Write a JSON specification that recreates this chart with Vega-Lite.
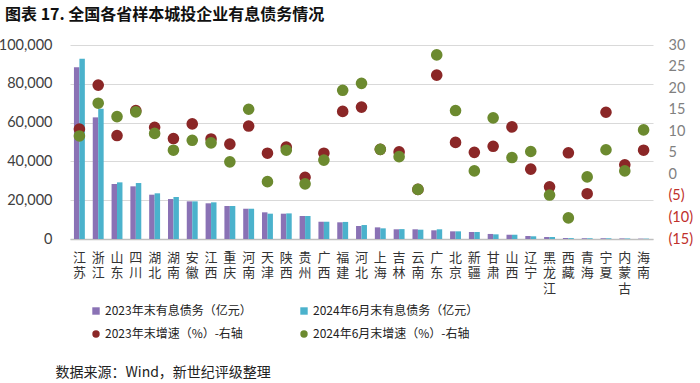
{
  "$schema": "https://vega.github.io/schema/vega-lite/v6.json",
  "width": 583,
  "height": 194,
  "autosize": "none",
  "padding": {"left": 70, "top": 45, "right": 47, "bottom": 144},
  "background": "#ffffff",
  "title": {
    "text": "图表 17. 全国各省样本城投企业有息债务情况",
    "anchor": "start",
    "frame": "group",
    "dx": -65,
    "offset": 14,
    "font": "Noto Sans CJK SC",
    "fontSize": 16,
    "fontWeight": "bold",
    "color": "#111111"
  },
  "config": {
    "view": {"stroke": null},
    "axis": {"labelFont": "Lato", "titleFont": "Noto Sans CJK SC"},
    "legend": {"labelFont": "Noto Sans CJK SC"}
  },
  "datasets": {
    "debt": [
      {"province": "江苏", "series": "2023年末有息债务（亿元）", "value": 88500},
      {"province": "江苏", "series": "2024年6月末有息债务（亿元）", "value": 92900},
      {"province": "浙江", "series": "2023年末有息债务（亿元）", "value": 62700},
      {"province": "浙江", "series": "2024年6月末有息债务（亿元）", "value": 67200},
      {"province": "山东", "series": "2023年末有息债务（亿元）", "value": 28350},
      {"province": "山东", "series": "2024年6月末有息债务（亿元）", "value": 29200},
      {"province": "四川", "series": "2023年末有息债务（亿元）", "value": 27150},
      {"province": "四川", "series": "2024年6月末有息债务（亿元）", "value": 28850},
      {"province": "湖北", "series": "2023年末有息债务（亿元）", "value": 22840},
      {"province": "湖北", "series": "2024年6月末有息债务（亿元）", "value": 23550},
      {"province": "湖南", "series": "2023年末有息债务（亿元）", "value": 20600},
      {"province": "湖南", "series": "2024年6月末有息债务（亿元）", "value": 21650},
      {"province": "安徽", "series": "2023年末有息债务（亿元）", "value": 19400},
      {"province": "安徽", "series": "2024年6月末有息债务（亿元）", "value": 19400},
      {"province": "江西", "series": "2023年末有息债务（亿元）", "value": 18400},
      {"province": "江西", "series": "2024年6月末有息债务（亿元）", "value": 18900},
      {"province": "重庆", "series": "2023年末有息债务（亿元）", "value": 17000},
      {"province": "重庆", "series": "2024年6月末有息债务（亿元）", "value": 17000},
      {"province": "河南", "series": "2023年末有息债务（亿元）", "value": 15600},
      {"province": "河南", "series": "2024年6月末有息债务（亿元）", "value": 15600},
      {"province": "天津", "series": "2023年末有息债务（亿元）", "value": 13750},
      {"province": "天津", "series": "2024年6月末有息债务（亿元）", "value": 13050},
      {"province": "陕西", "series": "2023年末有息债务（亿元）", "value": 13050},
      {"province": "陕西", "series": "2024年6月末有息债务（亿元）", "value": 13200},
      {"province": "贵州", "series": "2023年末有息债务（亿元）", "value": 11850},
      {"province": "贵州", "series": "2024年6月末有息债务（亿元）", "value": 11850},
      {"province": "广西", "series": "2023年末有息债务（亿元）", "value": 8900},
      {"province": "广西", "series": "2024年6月末有息债务（亿元）", "value": 8900},
      {"province": "福建", "series": "2023年末有息债务（亿元）", "value": 8600},
      {"province": "福建", "series": "2024年6月末有息债务（亿元）", "value": 8800},
      {"province": "河北", "series": "2023年末有息债务（亿元）", "value": 6700},
      {"province": "河北", "series": "2024年6月末有息债务（亿元）", "value": 7200},
      {"province": "上海", "series": "2023年末有息债务（亿元）", "value": 6000},
      {"province": "上海", "series": "2024年6月末有息债务（亿元）", "value": 5500},
      {"province": "吉林", "series": "2023年末有息债务（亿元）", "value": 5000},
      {"province": "吉林", "series": "2024年6月末有息债务（亿元）", "value": 5100},
      {"province": "云南", "series": "2023年末有息债务（亿元）", "value": 5000},
      {"province": "云南", "series": "2024年6月末有息债务（亿元）", "value": 4800},
      {"province": "广东", "series": "2023年末有息债务（亿元）", "value": 4480},
      {"province": "广东", "series": "2024年6月末有息债务（亿元）", "value": 5000},
      {"province": "北京", "series": "2023年末有息债务（亿元）", "value": 3950},
      {"province": "北京", "series": "2024年6月末有息债务（亿元）", "value": 3950},
      {"province": "新疆", "series": "2023年末有息债务（亿元）", "value": 3600},
      {"province": "新疆", "series": "2024年6月末有息债务（亿元）", "value": 3600},
      {"province": "甘肃", "series": "2023年末有息债务（亿元）", "value": 2600},
      {"province": "甘肃", "series": "2024年6月末有息债务（亿元）", "value": 2400},
      {"province": "山西", "series": "2023年末有息债务（亿元）", "value": 2200},
      {"province": "山西", "series": "2024年6月末有息债务（亿元）", "value": 2200},
      {"province": "辽宁", "series": "2023年末有息债务（亿元）", "value": 1550},
      {"province": "辽宁", "series": "2024年6月末有息债务（亿元）", "value": 1400},
      {"province": "黑龙江", "series": "2023年末有息债务（亿元）", "value": 1030},
      {"province": "黑龙江", "series": "2024年6月末有息债务（亿元）", "value": 1030},
      {"province": "西藏", "series": "2023年末有息债务（亿元）", "value": 500},
      {"province": "西藏", "series": "2024年6月末有息债务（亿元）", "value": 450},
      {"province": "青海", "series": "2023年末有息债务（亿元）", "value": 400},
      {"province": "青海", "series": "2024年6月末有息债务（亿元）", "value": 380},
      {"province": "宁夏", "series": "2023年末有息债务（亿元）", "value": 380},
      {"province": "宁夏", "series": "2024年6月末有息债务（亿元）", "value": 360},
      {"province": "内蒙古", "series": "2023年末有息债务（亿元）", "value": 300},
      {"province": "内蒙古", "series": "2024年6月末有息债务（亿元）", "value": 280},
      {"province": "海南", "series": "2023年末有息债务（亿元）", "value": 200},
      {"province": "海南", "series": "2024年6月末有息债务（亿元）", "value": 200}
    ],
    "growth": [
      {"province": "江苏", "series": "2023年末增速（%）-右轴", "rate": 10.5},
      {"province": "浙江", "series": "2023年末增速（%）-右轴", "rate": 20.7},
      {"province": "山东", "series": "2023年末增速（%）-右轴", "rate": 9.0},
      {"province": "四川", "series": "2023年末增速（%）-右轴", "rate": 14.8},
      {"province": "湖北", "series": "2023年末增速（%）-右轴", "rate": 10.9},
      {"province": "湖南", "series": "2023年末增速（%）-右轴", "rate": 8.3},
      {"province": "安徽", "series": "2023年末增速（%）-右轴", "rate": 11.7},
      {"province": "江西", "series": "2023年末增速（%）-右轴", "rate": 8.2},
      {"province": "重庆", "series": "2023年末增速（%）-右轴", "rate": 7.0},
      {"province": "河南", "series": "2023年末增速（%）-右轴", "rate": 11.2},
      {"province": "天津", "series": "2023年末增速（%）-右轴", "rate": 4.9},
      {"province": "陕西", "series": "2023年末增速（%）-右轴", "rate": 6.3},
      {"province": "贵州", "series": "2023年末增速（%）-右轴", "rate": -0.7},
      {"province": "广西", "series": "2023年末增速（%）-右轴", "rate": 4.9},
      {"province": "福建", "series": "2023年末增速（%）-右轴", "rate": 14.6},
      {"province": "河北", "series": "2023年末增速（%）-右轴", "rate": 15.6},
      {"province": "上海", "series": "2023年末增速（%）-右轴", "rate": 5.8},
      {"province": "吉林", "series": "2023年末增速（%）-右轴", "rate": 5.2},
      {"province": "云南", "series": "2023年末增速（%）-右轴", "rate": -3.5},
      {"province": "广东", "series": "2023年末增速（%）-右轴", "rate": 23.0},
      {"province": "北京", "series": "2023年末增速（%）-右轴", "rate": 7.4},
      {"province": "新疆", "series": "2023年末增速（%）-右轴", "rate": 5.1},
      {"province": "甘肃", "series": "2023年末增速（%）-右轴", "rate": 6.5},
      {"province": "山西", "series": "2023年末增速（%）-右轴", "rate": 11.0},
      {"province": "辽宁", "series": "2023年末增速（%）-右轴", "rate": 1.2},
      {"province": "黑龙江", "series": "2023年末增速（%）-右轴", "rate": -2.9},
      {"province": "西藏", "series": "2023年末增速（%）-右轴", "rate": 5.0},
      {"province": "青海", "series": "2023年末增速（%）-右轴", "rate": -4.5},
      {"province": "宁夏", "series": "2023年末增速（%）-右轴", "rate": 14.4},
      {"province": "内蒙古", "series": "2023年末增速（%）-右轴", "rate": 2.2},
      {"province": "海南", "series": "2023年末增速（%）-右轴", "rate": 5.6},
      {"province": "江苏", "series": "2024年6月末增速（%）-右轴", "rate": 8.9},
      {"province": "浙江", "series": "2024年6月末增速（%）-右轴", "rate": 16.5},
      {"province": "山东", "series": "2024年6月末增速（%）-右轴", "rate": 13.4},
      {"province": "四川", "series": "2024年6月末增速（%）-右轴", "rate": 14.5},
      {"province": "湖北", "series": "2024年6月末增速（%）-右轴", "rate": 9.5},
      {"province": "湖南", "series": "2024年6月末增速（%）-右轴", "rate": 5.6},
      {"province": "安徽", "series": "2024年6月末增速（%）-右轴", "rate": 7.9},
      {"province": "江西", "series": "2024年6月末增速（%）-右轴", "rate": 7.3},
      {"province": "重庆", "series": "2024年6月末增速（%）-右轴", "rate": 2.9},
      {"province": "河南", "series": "2024年6月末增速（%）-右轴", "rate": 15.1},
      {"province": "天津", "series": "2024年6月末增速（%）-右轴", "rate": -1.7},
      {"province": "陕西", "series": "2024年6月末增速（%）-右轴", "rate": 5.6},
      {"province": "贵州", "series": "2024年6月末增速（%）-右轴", "rate": -2.2},
      {"province": "广西", "series": "2024年6月末增速（%）-右轴", "rate": 3.3},
      {"province": "福建", "series": "2024年6月末增速（%）-右轴", "rate": 19.5},
      {"province": "河北", "series": "2024年6月末增速（%）-右轴", "rate": 21.1},
      {"province": "上海", "series": "2024年6月末增速（%）-右轴", "rate": 5.8},
      {"province": "吉林", "series": "2024年6月末增速（%）-右轴", "rate": 4.1},
      {"province": "云南", "series": "2024年6月末增速（%）-右轴", "rate": -3.5},
      {"province": "广东", "series": "2024年6月末增速（%）-右轴", "rate": 27.7},
      {"province": "北京", "series": "2024年6月末增速（%）-右轴", "rate": 14.8},
      {"province": "新疆", "series": "2024年6月末增速（%）-右轴", "rate": 0.8},
      {"province": "甘肃", "series": "2024年6月末增速（%）-右轴", "rate": 13.1},
      {"province": "山西", "series": "2024年6月末增速（%）-右轴", "rate": 3.9},
      {"province": "辽宁", "series": "2024年6月末增速（%）-右轴", "rate": 5.3},
      {"province": "黑龙江", "series": "2024年6月末增速（%）-右轴", "rate": -4.8},
      {"province": "西藏", "series": "2024年6月末增速（%）-右轴", "rate": -10.1},
      {"province": "青海", "series": "2024年6月末增速（%）-右轴", "rate": -0.6},
      {"province": "宁夏", "series": "2024年6月末增速（%）-右轴", "rate": 5.7},
      {"province": "内蒙古", "series": "2024年6月末增速（%）-右轴", "rate": 0.8},
      {"province": "海南", "series": "2024年6月末增速（%）-右轴", "rate": 10.3}
    ]
  },
  "encoding": {
    "x": {
      "field": "province",
      "type": "nominal",
      "sort": null,
      "scale": {"paddingInner": 0.42, "paddingOuter": 0.21},
      "axis": {
        "labelAngle": 0,
        "labelExpr": "split(datum.label, '')",
        "labelFont": "Noto Sans CJK SC",
        "labelFontSize": 13,
        "labelLineHeight": 15.5,
        "labelColor": "#333333",
        "labelBaseline": "top",
        "labelPadding": 12,
        "ticks": false,
        "domainColor": "#bfbfbf",
        "domainWidth": 1.5,
        "title": "数据来源：Wind，新世纪评级整理",
        "titleFont": "Noto Sans CJK SC",
        "titleFontSize": 14,
        "titleFontWeight": "normal",
        "titleColor": "#222222",
        "titleAnchor": "start",
        "titleAlign": "left",
        "titleBaseline": "middle",
        "titleX": -15,
        "titleY": 133
      }
    }
  },
  "layer": [
    {
      "data": {"name": "debt"},
      "mark": {"type": "bar", "opacity": 1},
      "encoding": {
        "xOffset": {
          "field": "series",
          "type": "nominal",
          "scale": {"domain": ["2023年末有息债务（亿元）", "2024年6月末有息债务（亿元）"], "paddingInner": 0}
        },
        "y": {
          "field": "value",
          "type": "quantitative",
          "scale": {"domain": [0, 100000], "nice": false},
          "axis": {
            "orient": "left",
            "title": null,
            "values": [0, 20000, 40000, 60000, 80000, 100000],
            "format": ",.0f",
            "labelFontSize": 14.5,
            "labelColor": "#404040",
            "labelPadding": 18,
            "ticks": false,
            "domain": false,
            "grid": true,
            "gridColor": "#d9d9d9",
            "gridWidth": 1
          }
        },
        "color": {
          "field": "series",
          "type": "nominal",
          "scale": {
            "domain": ["2023年末有息债务（亿元）", "2023年末增速（%）-右轴", "2024年6月末有息债务（亿元）", "2024年6月末增速（%）-右轴"],
            "range": ["#8a72b5", "#8b2727", "#4bb2cc", "#6c8a2f"]
          },
          "legend": {
            "title": null,
            "orient": "none",
            "legendX": 20,
            "legendY": 260,
            "columns": 2,
            "columnPadding": 46,
            "rowPadding": 11,
            "labelFontSize": 12,
            "labelLimit": 0,
            "labelColor": "#222222",
            "symbolSize": 55,
            "labelOffset": 3
          }
        }
      }
    },
    {
      "data": {"name": "growth"},
      "mark": {"type": "point", "filled": true, "opacity": 1, "size": 135},
      "encoding": {
        "y": {
          "field": "rate",
          "type": "quantitative",
          "scale": {"domain": [-15, 30], "nice": false, "zero": false},
          "axis": {
            "orient": "right",
            "title": null,
            "values": [-15, -10, -5, 0, 5, 10, 15, 20, 25, 30],
            "labelExpr": "datum.value < 0 ? '(' + abs(datum.value) + ')' : '' + datum.value",
            "labelFontSize": 14.5,
            "labelColor": {"condition": {"test": "datum.value < 0", "value": "#c0302b"}, "value": "#808080"},
            "labelPadding": 15,
            "ticks": false,
            "domain": false,
            "grid": false
          }
        },
        "color": {"field": "series", "type": "nominal"},
        "shape": {
          "field": "series",
          "type": "nominal",
          "scale": {
            "domain": ["2023年末有息债务（亿元）", "2023年末增速（%）-右轴", "2024年6月末有息债务（亿元）", "2024年6月末增速（%）-右轴"],
            "range": ["square", "circle", "square", "circle"]
          }
        }
      }
    }
  ],
  "resolve": {"scale": {"y": "independent"}}
}
